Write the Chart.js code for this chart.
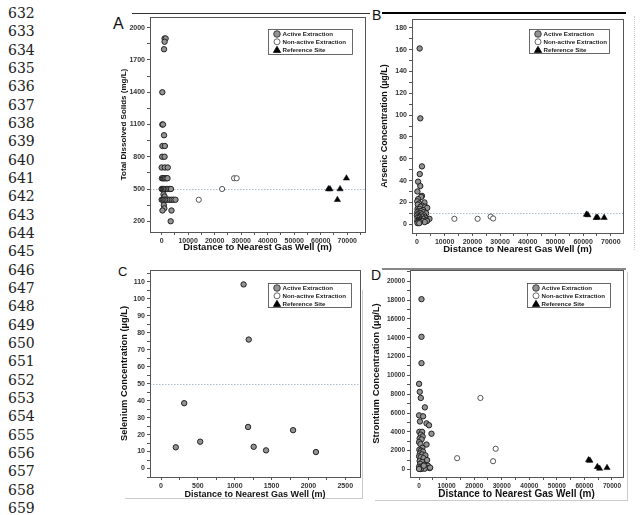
<!DOCTYPE html>
<html>
<head>
<meta charset="utf-8">
<title>Water quality vs distance to gas well</title>
<script src="https://cdn.jsdelivr.net/npm/chart.js@4.4.1/dist/chart.umd.min.js"></script>
<style>
  body { margin: 0; background: #fff; }
  #page { position: relative; width: 640px; height: 515px; overflow: hidden; }
  canvas { position: absolute; }
  .ln { position: absolute; left: 8px; font: 14px "DejaVu Serif", "Liberation Serif", serif; color: #222; line-height: 18px; }
  .tag { position: absolute; font-family: "Liberation Sans", Arial, sans-serif; line-height: 1; color: #111; }
  .rule { position: absolute; }
</style>
</head>
<body>
<div id="page">
  <div id="lineNumbers"></div>

  <div class="rule" style="left:132px;top:13px;width:238px;height:1px;background:#333"></div>
  <div class="rule" style="left:382px;top:12px;width:244px;height:2px;background:#000"></div>
  <div class="rule" style="left:382px;top:268px;width:244px;height:2px;background:#888"></div>
  <div class="rule" style="left:634px;top:16px;width:0;height:234px;border-left:1px dotted #ccc"></div>
  <div class="rule" style="left:362px;top:290px;width:1px;height:208px;background:#ccc"></div>
  <div class="rule" style="left:125px;top:498px;width:238px;height:1px;background:#ccc"></div>
  <div class="rule" style="left:627px;top:272px;width:1px;height:228px;background:#ccc"></div>
  <div class="rule" style="left:375px;top:500px;width:253px;height:1px;background:#ccc"></div>

  <div class="tag" style="left:113px;top:16px;font-size:16px">A</div>
  <div class="tag" style="left:372px;top:8px;font-size:14px">B</div>
  <div class="tag" style="left:118px;top:265px;font-size:13px">C</div>
  <div class="tag" style="left:371px;top:268px;font-size:14px">D</div>

  <canvas id="chartTds" width="250" height="245" style="left:120px;top:10px"></canvas>
  <canvas id="chartArsenic" width="250" height="245" style="left:380px;top:12px"></canvas>
  <canvas id="chartSelenium" width="245" height="240" style="left:120px;top:262px"></canvas>
  <canvas id="chartStrontium" width="258" height="240" style="left:372px;top:262px"></canvas>
</div>

<script>
// ---- data: [distance (m), concentration] ----
const LINE_FIRST = 632;
const LINE_LAST = 659;

const SERIES_LABELS = ['Active Extraction', 'Non-active Extraction', 'Reference Site'];

// A: total dissolved solids (mg/L)
const tdsActive = [
  [1100, 1900], [1500, 1900], [1100, 1870], [900, 1800], [250, 1400], [250, 1100], [500, 1100],
  [900, 1000], [300, 900], [1200, 900], [200, 800], [1100, 800], [0, 700], [1200, 700], [2300, 700],
  [100, 600], [500, 600], [900, 600], [1300, 600], [1800, 600], [2200, 600],
  [0, 500], [400, 500], [800, 500], [1200, 500], [1700, 500], [2300, 500], [2900, 500], [3500, 500],
  [700, 450], [1100, 430], [0, 400], [400, 400], [900, 400], [1400, 400], [1900, 400], [2500, 400],
  [3100, 400], [3800, 400], [4500, 400], [5200, 400], [800, 350], [1000, 320], [300, 300],
  [3700, 300], [3400, 200]
];
const tdsInactive = [[14000, 400], [22800, 500], [27300, 600], [28300, 600]];
const tdsReference = [[62900, 500], [63500, 500], [66300, 400], [67300, 500], [69700, 600]];
const tdsLimit = 500;

// B: arsenic (ug/L)
const arsenicActive = [
  [960, 161], [1200, 97], [1800, 53], [1000, 46], [400, 39], [1200, 35], [150, 30], [1800, 26],
  [1500, 25], [400, 23], [100, 21], [2700, 20], [800, 19], [300, 18], [1900, 17], [1300, 16],
  [3000, 16], [3700, 15], [200, 14], [900, 14], [2200, 13], [500, 12], [1500, 12], [2400, 11],
  [100, 11], [700, 10], [1200, 10], [3300, 10], [300, 9], [1800, 9], [2600, 8], [0, 8], [600, 7],
  [1100, 7], [2000, 7], [3000, 6], [200, 6], [900, 6], [1500, 5], [4500, 5], [2300, 5], [400, 4],
  [1300, 4], [3400, 4], [100, 3], [700, 3], [1900, 3], [3600, 3], [2800, 2], [500, 2], [1100, 2],
  [200, 1], [800, 1]
];
const arsenicInactive = [[13500, 5], [21900, 5], [26600, 7], [27500, 5.3]];
const arsenicReference = [[61200, 9], [61700, 8.5], [64700, 6], [65200, 6.2], [67600, 6]];
const arsenicLimit = 10;

// C: selenium (ug/L)
const seleniumActive = [
  [200, 12.5], [314, 38.5], [531, 15.8], [1120, 108.5], [1181, 24.5], [1190, 76],
  [1257, 12.8], [1425, 10.7], [1792, 22.6], [2102, 9.7]
];
const seleniumInactive = [];
const seleniumReference = [];
const seleniumLimit = 50;

// D: strontium (ug/L)
const strontiumActive = [
  [870, 18100], [870, 14100], [870, 11300], [0, 9100], [250, 8250], [620, 7600], [2100, 6600],
  [0, 5750], [1450, 5650], [300, 5100], [2700, 4900], [3600, 4700], [4500, 3800], [100, 4000],
  [1100, 4000], [600, 3700], [1300, 3500], [200, 3300], [900, 3200], [2700, 2650], [0, 2900],
  [500, 2700], [1200, 2300], [100, 2100], [700, 2000], [1400, 1900], [300, 1700], [1000, 1600],
  [2300, 1500], [0, 1400], [600, 1300], [1600, 1200], [2900, 1000], [200, 900], [1100, 800],
  [400, 600], [1900, 500], [3200, 400], [0, 300], [800, 300], [1500, 250], [2500, 200],
  [3800, 150], [300, 100], [1200, 100], [2000, 80], [600, 50], [0, 50], [1700, 400], [4000, 200]
];
const strontiumInactive = [[13800, 1200], [22250, 7600], [26850, 880], [27800, 2200]];
const strontiumReference = [[61500, 1000], [62000, 950], [64700, 280], [65500, 100], [68200, 180]];

// tick labels
const wellTicks = [0, 10000, 20000, 30000, 40000, 50000, 60000, 70000];
const seleniumDistTicks = [0, 500, 1000, 1500, 2000, 2500];
const tdsTicks = [200, 500, 800, 1100, 1400, 1700, 2000];
const arsenicTicks = [0, 20, 40, 60, 80, 100, 120, 140, 160, 180];
const seleniumTicks = [0, 10, 20, 30, 40, 50, 60, 70, 80, 90, 100, 110];
const strontiumTicks = [0, 2000, 4000, 6000, 8000, 10000, 12000, 14000, 16000, 18000, 20000];

// ---- helpers ----
const FONT = '"Liberation Sans", Arial, sans-serif';

document.getElementById('lineNumbers').innerHTML = Array.from(
  { length: LINE_LAST - LINE_FIRST + 1 },
  (_, i) => `<div class="ln" style="top:${4 + i * 18.33}px">${LINE_FIRST + i}</div>`
).join('');

const toPoints = pairs => pairs.map(([x, y]) => ({ x, y }));

// majors plus a minor tick halfway between (and one step beyond each end)
function withMinors(majors, min, max) {
  const step = majors[1] - majors[0];
  const all = [];
  for (let i = -1; i < majors.length; i++) {
    const base = i < 0 ? majors[0] - step : majors[i];
    if (i >= 0) all.push(base);
    all.push(base + step / 2);
  }
  return all.filter(v => v >= min && v <= max);
}

function axis(opt) {
  const [min, max] = opt.range;
  return {
    type: 'linear',
    min, max,
    afterBuildTicks: scale => {
      scale.ticks = withMinors(opt.majors, min, max).map(value => ({ value }));
    },
    afterFit: scale => {
      if (opt.horizontal) scale.height = opt.fit;
      else scale.width = opt.fit;
    },
    ticks: {
      autoSkip: false,
      maxRotation: 0,
      padding: 2,
      color: '#333',
      font: { family: FONT, size: opt.tickSize, weight: 'bold' },
      callback: value => (opt.majors.includes(value) ? String(value) : '')
    },
    grid: { drawOnChartArea: false, drawTicks: true, tickLength: 3, tickColor: '#555', color: '#555' },
    border: { display: false },
    title: {
      display: true,
      text: opt.title,
      color: '#111',
      padding: { top: 0, bottom: 3 },
      font: { family: FONT, size: opt.titleSize, weight: 'bold', lineHeight: 1 }
    }
  };
}

// plot frame on all four sides
const framePlugin = {
  id: 'frame',
  afterDatasetsDraw(chart) {
    const { ctx, chartArea: a } = chart;
    ctx.save();
    ctx.strokeStyle = '#555';
    ctx.lineWidth = 1;
    ctx.strokeRect(Math.round(a.left) + 0.5, Math.round(a.top) + 0.5,
      Math.round(a.right - a.left), Math.round(a.bottom - a.top));
    ctx.restore();
  }
};

// dotted guideline at the drinking-water limit
const limitPlugin = {
  id: 'limit',
  beforeDatasetsDraw(chart, args, opts) {
    if (opts.value == null) return;
    const { ctx, chartArea: a, scales } = chart;
    const y = Math.round(scales.y.getPixelForValue(opts.value)) + 0.5;
    ctx.save();
    ctx.strokeStyle = 'rgba(140, 165, 190, 0.75)';
    ctx.lineWidth = 1;
    ctx.setLineDash([1.5, 1.5]);
    ctx.beginPath();
    ctx.moveTo(a.left, y);
    ctx.lineTo(a.right, y);
    ctx.stroke();
    ctx.restore();
  }
};

// boxed key in the upper right corner of the plot
const keyPlugin = {
  id: 'keyBox',
  afterDraw(chart, args, opts) {
    const { ctx, chartArea: a } = chart;
    const left = Math.round(a.right - opts.right - opts.width) + 0.5;
    const top = Math.round(a.top + opts.top) + 0.5;
    ctx.save();
    ctx.fillStyle = '#fff';
    ctx.strokeStyle = '#444';
    ctx.lineWidth = 0.8;
    ctx.fillRect(left, top, opts.width, opts.height);
    ctx.strokeRect(left, top, opts.width, opts.height);
    ctx.font = `bold 6.2px ${FONT}`;
    ctx.textBaseline = 'middle';
    chart.data.datasets.forEach((ds, i) => {
      const cy = top + 4.5 + i * 7.8;
      const cx = left + 8.5;
      ctx.fillStyle = ds.backgroundColor;
      ctx.strokeStyle = ds.borderColor;
      ctx.lineWidth = 0.8;
      ctx.beginPath();
      if (ds.pointStyle === 'triangle') {
        ctx.moveTo(cx, cy - 3.3);
        ctx.lineTo(cx + 3.6, cy + 2.8);
        ctx.lineTo(cx - 3.6, cy + 2.8);
        ctx.closePath();
      } else {
        ctx.arc(cx, cy, i === 0 ? 3.3 : 3, 0, Math.PI * 2);
      }
      ctx.fill();
      ctx.stroke();
      ctx.fillStyle = '#222';
      ctx.fillText(ds.label, left + 14, cy + 0.5);
    });
    ctx.restore();
  }
};

function buildPanel(id, cfg) {
  const datasets = [
    { label: SERIES_LABELS[0], data: toPoints(cfg.active), pointStyle: 'circle', pointRadius: 2.7,
      backgroundColor: '#939393', borderColor: '#222', borderWidth: 1 },
    { label: SERIES_LABELS[1], data: toPoints(cfg.inactive), pointStyle: 'circle', pointRadius: 2.6,
      backgroundColor: '#ffffff', borderColor: '#444', borderWidth: 0.9 },
    { label: SERIES_LABELS[2], data: toPoints(cfg.reference), pointStyle: 'triangle', pointRadius: 3.6,
      backgroundColor: '#000000', borderColor: '#000000', borderWidth: 0.5 }
  ];
  return new Chart(document.getElementById(id), {
    type: 'scatter',
    data: { datasets },
    options: {
      responsive: false,
      animation: false,
      events: [],
      layout: { padding: { top: cfg.padTop, right: cfg.padRight, left: 0, bottom: 0 } },
      plugins: {
        legend: { display: false },
        tooltip: { enabled: false },
        limit: { value: cfg.limit },
        keyBox: cfg.key
      },
      scales: {
        x: axis({ horizontal: true, range: cfg.xRange, majors: cfg.xTicks, fit: cfg.xFit,
          title: 'Distance to Nearest Gas Well (m)', titleSize: cfg.xTitleSize, tickSize: cfg.tickSize }),
        y: axis({ horizontal: false, range: cfg.yRange, majors: cfg.yTicks, fit: cfg.yFit,
          title: cfg.yTitle, titleSize: cfg.yTitleSize, tickSize: cfg.tickSize })
      }
    },
    plugins: [limitPlugin, framePlugin, keyPlugin]
  });
}

buildPanel('chartTds', {
  active: tdsActive, inactive: tdsInactive, reference: tdsReference, limit: tdsLimit,
  xRange: [-4400, 76700], yRange: [100, 2100], xTicks: wellTicks, yTicks: tdsTicks,
  yTitle: 'Total Dissolved Solids (mg/L)', yTitleSize: 8, xTitleSize: 9.5, tickSize: 7,
  padTop: 7, padRight: 5, yFit: 30, xFit: 23,
  key: { right: 13, top: 12, width: 84, height: 25 }
});

buildPanel('chartArsenic', {
  active: arsenicActive, inactive: arsenicInactive, reference: arsenicReference, limit: arsenicLimit,
  xRange: [-1800, 74400], yRange: [-8, 188], xTicks: wellTicks, yTicks: arsenicTicks,
  yTitle: 'Arsenic Concentration (\u00b5g/L)', yTitleSize: 9, xTitleSize: 9.5, tickSize: 7,
  padTop: 7, padRight: 7, yFit: 32, xFit: 24,
  key: { right: 14, top: 10, width: 80, height: 24 }
});

buildPanel('chartSelenium', {
  active: seleniumActive, inactive: seleniumInactive, reference: seleniumReference, limit: seleniumLimit,
  xRange: [-150, 2700], yRange: [-5, 117], xTicks: seleniumDistTicks, yTicks: seleniumTicks,
  yTitle: 'Selenium Concentration (\u00b5g/L)', yTitleSize: 9.3, xTitleSize: 9, tickSize: 7,
  padTop: 8, padRight: 5, yFit: 30, xFit: 25,
  key: { right: 9, top: 13, width: 83, height: 24 }
});

buildPanel('chartStrontium', {
  active: strontiumActive, inactive: strontiumInactive, reference: strontiumReference, limit: null,
  xRange: [-3300, 74000], yRange: [-800, 21200], xTicks: wellTicks, yTicks: strontiumTicks,
  yTitle: 'Strontium Concentration (\u00b5g/L)', yTitleSize: 9.5, xTitleSize: 10, tickSize: 6.5,
  padTop: 8, padRight: 7, yFit: 38, xFit: 25,
  key: { right: 13, top: 13, width: 83, height: 24 }
});
</script>
</body>
</html>
